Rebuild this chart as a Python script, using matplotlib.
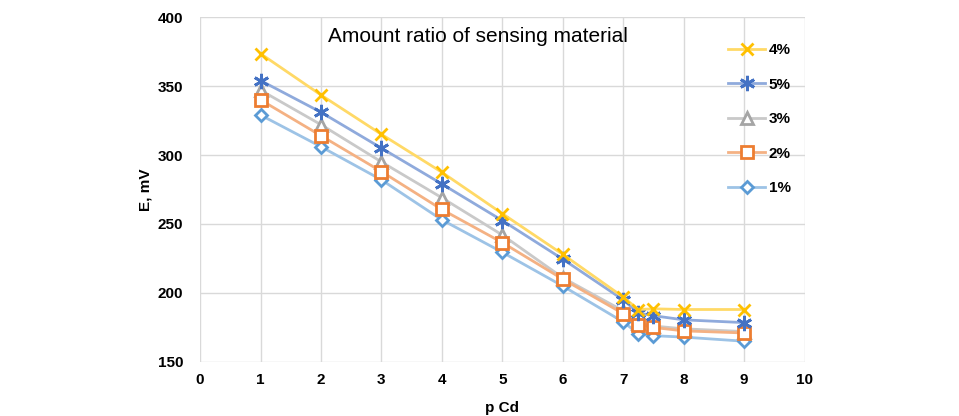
import matplotlib.pyplot as plt

plt.rcParams['font.family'] = ['Liberation Sans', 'DejaVu Sans']

p_cd = [1, 2, 3, 4, 5, 6, 7, 7.25, 7.5, 8, 9]

e_1 = [329, 306, 282, 253, 229.5, 205, 179, 170.5, 169, 168, 165]
e_2 = [340, 314, 288, 260.5, 236.5, 210, 185, 177, 175, 172.5, 171]
e_3 = [347, 322, 295, 269, 242, 211, 187, 178, 176, 174, 172]
e_4 = [373.5, 343.5, 315, 287.5, 257.5, 228, 197, 188, 188.5, 188, 188]
e_5 = [354, 331, 305, 279, 252.5, 224.5, 195, 185.5, 183.5, 180.5, 178.5]

series = [
    # label, values, line colour, marker colour, marker, size
    ('1%', e_1, '#9DC3E6', '#5B9BD5', 'D', 6.5),
    ('3%', e_3, '#C9C9C9', '#A5A5A5', '^', 8),
    ('2%', e_2, '#F4B183', '#ED7D31', 's', 9),
    ('5%', e_5, '#8FAADC', '#4472C4', (6, 2, 0), 11),
    ('4%', e_4, '#FFD966', '#FFC000', 'x', 9),
]
legend_order = ['4%', '5%', '3%', '2%', '1%']

fig = plt.figure(figsize=(9.59, 4.16), dpi=100)
ax = fig.add_axes([0.2086, 0.130, 0.6304, 0.829])

handles = {}
for label, vals, lc, mc, mk, ms in series:
    line, = ax.plot(p_cd, vals, color=lc, linewidth=2, marker=mk,
                    markersize=ms, markeredgecolor=mc, markerfacecolor='white',
                    markeredgewidth=2, label=label)
    handles[label] = line

ax.set_xlim(0, 10)
ax.set_ylim(150, 400)
ax.set_xticks(range(0, 11))
ax.set_yticks(range(150, 401, 50))
ax.grid(True, color='#D9D9D9', linewidth=1)
ax.set_axisbelow(True)
for s in ax.spines.values():
    s.set_visible(False)
ax.tick_params(length=0, labelsize=11, pad=8)
ax.tick_params(axis='y', pad=12)
for t in ax.get_xticklabels() + ax.get_yticklabels():
    t.set_fontweight('bold')

ax.set_xlabel('p Cd', fontsize=11, fontweight='bold', labelpad=10)
ax.set_ylabel('E, mV', fontsize=11, fontweight='bold', labelpad=4)

ax.text(0.459, 0.945, 'Amount ratio of sensing material', transform=ax.transAxes,
        ha='center', va='center', fontsize=15)

leg = ax.legend([handles[l] for l in legend_order], legend_order,
                loc='upper right', bbox_to_anchor=(1.0, 0.965), frameon=False,
                prop={'weight': 'bold', 'size': 11}, handlelength=2.4,
                labelspacing=1.35, handletextpad=0.25)

fig.savefig('out.png', dpi=100)
